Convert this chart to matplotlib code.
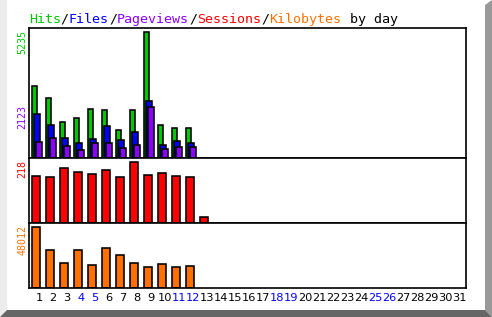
import numpy as np
import matplotlib
matplotlib.use("Agg")
import matplotlib.pyplot as plt
from matplotlib.patches import Polygon
from matplotlib.transforms import offset_copy

W, H = 492, 317

days = np.arange(1, 32)
weekend_days = [4, 5, 11, 12, 18, 19, 25, 26]

hits = [2986, 2486, 1528, 1694, 2041, 1986, 1195, 1986, 5235, 1403, 1278, 1278]
files = [1861, 1403, 862, 654, 820, 1362, 779, 1112, 2361, 570, 737, 654]
pageviews = [695, 862, 529, 362, 654, 654, 446, 570, 2123, 404, 487, 487]
sessions = [168, 164, 196, 182, 175, 189, 164, 218, 171, 178, 168, 164, 20]
kilobytes = [48012, 29800, 19500, 29800, 17950, 31400, 25850, 19500, 16370, 18740, 16370, 17160]

c_hits = "#00c800"
c_files = "#0000ff"
c_pages = "#8c00ff"
c_sess = "#ff0000"
c_kb = "#ff7000"

fig = plt.figure(figsize=(W / 100, H / 100), dpi=100)

# frame around the picture
bg = fig.add_axes([0, 0, 1, 1])
bg.set_xlim(0, W)
bg.set_ylim(H, 0)
bg.axis("off")
bg.add_patch(Polygon([(0, 0), (7, 0), (7, 310), (0, 317)], closed=True, fc="#ececec", ec="none"))
bg.add_patch(Polygon([(485, 5), (492, 0), (492, 317), (485, 310)], closed=True, fc="#999999", ec="none"))
bg.add_patch(Polygon([(0, 317), (7, 310), (485, 310), (492, 317)], closed=True, fc="#666666", ec="none"))

left, right = 28.7, 465.7
px_day = 14.0
x0 = 1 - (39.2 - left) / px_day
x1 = x0 + (right - left) / px_day


def panel(top, bottom):
    ax = fig.add_axes([left / W, 1 - bottom / H, (right - left) / W, (bottom - top) / H])
    ax.set_xlim(x0, x1)
    ax.set_xticks([])
    ax.set_yticks([])
    for s in ax.spines.values():
        s.set_linewidth(1.2)
    return ax


ax1 = panel(28.3, 158.3)
ax2 = panel(158.3, 223)
ax3 = panel(223, 288)

ax1.set_ylim(0, 5235 * 130 / 126)
ax2.set_ylim(0, 218 * 64.7 / 60.7)
ax3.set_ylim(0, 48012 * 65 / 60.7)

lw = 1.15
n = len(hits)
d = days[:n]
ax1.bar(d - 0.55, hits, width=0.38, align="edge", color=c_hits, edgecolor="black", linewidth=lw)
ax1.bar(d - 0.34, files, width=0.38, align="edge", color=c_files, edgecolor="black", linewidth=lw)
ax1.bar(d - 0.20, pageviews, width=0.38, align="edge", color=c_pages, edgecolor="black", linewidth=lw)
ax2.bar(days[:len(sessions)] - 0.48, sessions, width=0.53, align="edge", color=c_sess,
        edgecolor="black", linewidth=lw)
ax3.bar(days[:len(kilobytes)] - 0.48, kilobytes, width=0.53, align="edge", color=c_kb,
        edgecolor="black", linewidth=lw)


def ylab(ax, val, color):
    ax.annotate(str(val), xy=(0, val), xycoords=("axes fraction", "data"),
                xytext=(-6, 2), textcoords="offset pixels", rotation=90,
                ha="center", va="top", color=color, family="DejaVu Sans Mono", fontsize=7.2)


ylab(ax1, max(hits), c_hits)
ylab(ax1, max(pageviews), c_pages)
ylab(ax2, max(sessions), c_sess)
ylab(ax3, max(kilobytes), c_kb)

# day numbers
for day in days:
    ax3.annotate(str(day), xy=(day, 0), xycoords=("data", "axes fraction"),
                 xytext=(0, -10), textcoords="offset pixels", ha="center", va="center",
                 fontsize=8.2, color="#0000ff" if day in weekend_days else "black")

# multicoloured title
fs = 9.6
parts = [("Hits", c_hits), ("/", "black"), ("Files", c_files), ("/", "black"),
         ("Pageviews", c_pages), ("/", "black"), ("Sessions", c_sess), ("/", "black"),
         ("Kilobytes", c_kb), (" by day", "black")]
pos = 0
for txt, col in parts:
    tr = offset_copy(fig.transFigure, fig=fig, x=pos * 0.602 * fs, y=0, units="points")
    fig.text(left / W, 1 - 22.7 / H, txt, transform=tr, color=col, fontsize=fs,
             family="DejaVu Sans Mono", va="baseline", ha="left")
    pos += len(txt)

fig.savefig("out.png", dpi=100)
